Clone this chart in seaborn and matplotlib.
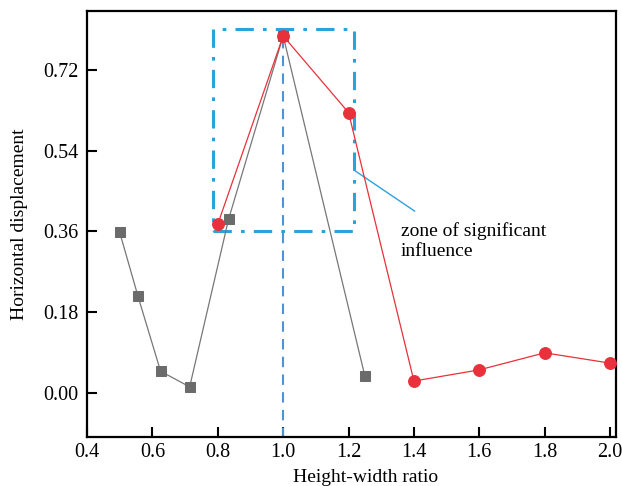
import matplotlib
matplotlib.use("Agg")
import matplotlib.pyplot as plt
import seaborn as sns
import pandas as pd

# Data
gray_x = [0.5, 0.556, 0.625, 0.714, 0.833, 1.0, 1.25]
gray_y = [0.358, 0.215, 0.048, 0.013, 0.387, 0.796, 0.037]
red_x = [0.8, 1.0, 1.2, 1.4, 1.6, 1.8, 2.0]
red_y = [0.376, 0.796, 0.625, 0.026, 0.051, 0.089, 0.066]
x_ticks = [0.4, 0.6, 0.8, 1.0, 1.2, 1.4, 1.6, 1.8, 2.0]
y_ticks = [0.00, 0.18, 0.36, 0.54, 0.72]
zone_x = [0.784, 1.216]
zone_y = [0.361, 0.811]
annot_text = "zone of significant\ninfluence"

sns.set_theme(style="white")
plt.rcParams['font.family'] = ['Liberation Serif', 'DejaVu Serif']
plt.rcParams['mathtext.fontset'] = 'stix'
plt.rcParams['text.color'] = 'black'
plt.rcParams['axes.labelcolor'] = 'black'
plt.rcParams['xtick.color'] = 'black'
plt.rcParams['ytick.color'] = 'black'

fig = plt.figure(figsize=(6.22, 4.86), dpi=100)
ax = fig.add_axes([87/622, 1 - 437/486, (616-87)/622, (437-11)/486])

df_g = pd.DataFrame({"x": gray_x, "y": gray_y})
df_r = pd.DataFrame({"x": red_x, "y": red_y})

gray_c = "#6b6b6b"
red_c = "#e8313a"
blue_c = "#29a3dc"
vblue_c = "#4f93d2"

# vertical dashed line
ax.plot([1.0, 1.0], [-0.1, red_y[1]], linestyle=(0, (5, 3.5)), color=vblue_c, lw=1.5, zorder=1)

# zone rectangle (dash-dot)
ax.plot([zone_x[0], zone_x[1], zone_x[1], zone_x[0], zone_x[0]],
        [zone_y[0], zone_y[0], zone_y[1], zone_y[1], zone_y[0]],
        linestyle=(0, (6, 3, 1.2, 3)), color=blue_c, lw=2.2, zorder=1)

sns.lineplot(data=df_g, x="x", y="y", sort=False, ax=ax, color="#777777", lw=0.9,
             marker="s", markersize=7.5, markerfacecolor=gray_c, markeredgecolor=gray_c, zorder=3)
sns.lineplot(data=df_r, x="x", y="y", sort=False, ax=ax, color=red_c, lw=0.9,
             marker="o", markersize=8.5, markerfacecolor=red_c, markeredgecolor=red_c, zorder=4)

# annotation leader line and text
ax.plot([zone_x[1], 1.4025], [0.497, 0.405], color=blue_c, lw=1.0, zorder=2)
ax.text(1.359, 0.381, annot_text, fontsize=14, va="top", ha="left", linespacing=1.25,
        color="black")

ax.set_xlim(0.4, 2.018)
ax.set_ylim(-0.0988, 0.8516)
ax.set_xticks(x_ticks)
ax.set_xticklabels([f"{v:.1f}" for v in x_ticks])
ax.set_yticks(y_ticks)
ax.set_yticklabels([f"{v:.2f}" for v in y_ticks])
ax.tick_params(direction="in", length=7, width=1.5, labelsize=14.5, pad=6,
               bottom=True, left=True, top=False, right=False, colors="black")
ax.tick_params(axis="x", pad=4.5)
for s in ax.spines.values():
    s.set_linewidth(1.6)
    s.set_color("black")
ax.set_xlabel("Height-width ratio", fontsize=14, labelpad=4)
ax.xaxis.set_label_coords(0.527, -0.075)
ax.xaxis.label.set_va("top")
ax.set_ylabel("Horizontal displacement", fontsize=14, labelpad=11)
ax.grid(False)

fig.savefig("out.png", dpi=100)
